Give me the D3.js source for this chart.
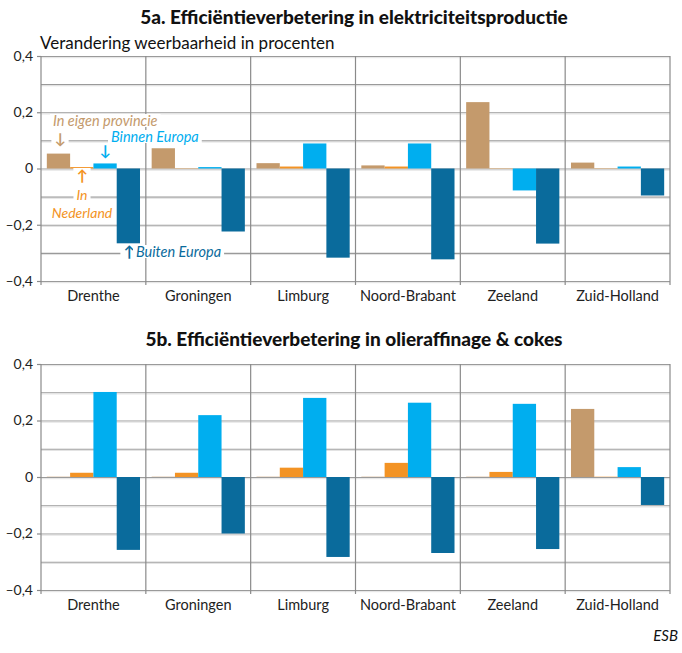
<!DOCTYPE html>
<html><head><meta charset="utf-8">
<script src="https://cdn.jsdelivr.net/npm/d3@7"></script>
<style>body{margin:0;background:#fff}svg{display:block}</style>
</head><body>
<svg id="c" width="682" height="653"></svg>
<script>
const categories = ["Drenthe","Groningen","Limburg","Noord-Brabant","Zeeland","Zuid-Holland"];
const series = ["In eigen provincie","In Nederland","Binnen Europa","Buiten Europa"];
const colors = ["#c49a6c","#f39324","#00aeef","#0a6b9c"];
// 5a: elektriciteitsproductie
const a_eigenProvincie = [0.053, 0.072, 0.019, 0.011, 0.236, 0.021];
const a_nederland      = [0.005, 0.001, 0.007, 0.007, 0.001, 0.001];
const a_binnenEuropa   = [0.018, 0.005, 0.089, 0.089, -0.078, 0.007];
const a_buitenEuropa   = [-0.266, -0.224, -0.317, -0.323, -0.267, -0.096];
// 5b: olieraffinage & cokes
const b_eigenProvincie = [0.001, 0.001, 0.001, 0.001, 0.001, 0.241];
const b_nederland      = [0.015, 0.015, 0.033, 0.050, 0.018, 0.001];
const b_binnenEuropa   = [0.301, 0.219, 0.280, 0.263, 0.259, 0.035];
const b_buitenEuropa   = [-0.258, -0.200, -0.283, -0.269, -0.255, -0.099];
const tickValues = [-0.4,-0.2,0,0.2,0.4];
const tickLabels = ["\u20130,4","\u20130,2","0","0,2","0,4"];
const gridValues = [-0.4,-0.3,-0.2,-0.1,0,0.1,0.2,0.3,0.4];

const svg = d3.select("#c");
const FONT = "Lato, 'Open Sans', sans-serif";
const L = 41, R = 670;

function panel(vals, top, bottom, title, titleY, labelY){
  const g = svg.append("g");
  const y = d3.scaleLinear().domain([-0.4,0.4]).range([bottom, top]);
  const x0 = d3.scaleBand().domain(categories).range([L,R]).padding(0);
  const x1 = d3.scaleBand().domain(series).range([0,x0.bandwidth()]).paddingInner(0).paddingOuter(0.25);
  g.selectAll(".gl").data(gridValues).join("line")
    .attr("x1",L).attr("x2",R).attr("y1",d=>y(d)+0.5).attr("y2",d=>y(d)+0.5)
    .attr("stroke","#9a9a9a").attr("stroke-width",1.2);
  g.selectAll(".gl2").data(gridValues).join("line")
    .attr("x1",L).attr("x2",R).attr("y1",d=>y(d)+1.7).attr("y2",d=>y(d)+1.7)
    .attr("stroke","#e2e2e2").attr("stroke-width",1);
  const seps = categories.map(c=>x0(c)).concat([R]);
  g.selectAll(".vs").data(seps).join("line")
    .attr("x1",d=>d).attr("x2",d=>d).attr("y1",top).attr("y2",bottom+4)
    .attr("stroke","#8a8a8a").attr("stroke-width",1.2);
  g.selectAll(".yt").data(tickValues).join("line")
    .attr("x1",L-4).attr("x2",L).attr("y1",d=>y(d)+0.5).attr("y2",d=>y(d)+0.5)
    .attr("stroke","#8a8a8a").attr("stroke-width",1.2);
  g.selectAll(".yl").data(tickValues).join("text")
    .attr("x",33).attr("y",d=>y(d)).attr("dy","0.35em").attr("text-anchor","end")
    .attr("font-family",FONT).attr("font-size",14).attr("fill","#222")
    .text((d,i)=>tickLabels[i]);
  categories.forEach((c,ci)=>{
    vals.forEach((arr,si)=>{
      const v = arr[ci];
      g.append("rect")
        .attr("x",x0(c)+x1(series[si])).attr("width",x1.bandwidth())
        .attr("y",y(Math.max(0,v))).attr("height",Math.abs(y(v)-y(0)))
        .attr("fill",colors[si]);
    });
  });
  g.selectAll(".cl").data(categories).join("text")
    .attr("x",d=>x0(d)+x0.bandwidth()/2).attr("y",labelY).attr("text-anchor","middle")
    .attr("font-family",FONT).attr("font-size",14.5).attr("fill","#222").text(d=>d);
  svg.append("text").attr("x",354).attr("y",titleY).attr("text-anchor","middle")
    .attr("font-family",FONT).attr("font-weight",900).attr("font-size",19).attr("fill","#111")
    .text(title);
  return {x0,x1,y};
}

panel([a_eigenProvincie,a_nederland,a_binnenEuropa,a_buitenEuropa], 56, 281,
  "5a. Efficiëntieverbetering in elektriciteitsproductie", 24, 301);
panel([b_eigenProvincie,b_nederland,b_binnenEuropa,b_buitenEuropa], 364, 590,
  "5b. Efficiëntieverbetering in olieraffinage & cokes", 346, 610);

svg.append("text").attr("x",40).attr("y",49).attr("font-family",FONT).attr("font-size",17)
  .attr("fill","#111").text("Verandering weerbaarheid in procenten");

function ann(txt, x, yv, col, anchor, bold, size){
  const t = svg.append("text").attr("x",x).attr("y",yv).attr("text-anchor",anchor||"start")
    .attr("font-family",FONT).attr("font-style","italic").attr("font-size",size||(bold?15:14.5))
    .attr("font-weight",bold?"bold":"normal").attr("fill",col).text(txt);
  const bb = t.node().getBBox();
  svg.insert("rect", function(){return t.node();}).attr("x",bb.x-3).attr("y",bb.y+2).attr("width",bb.width+6).attr("height",bb.height-4).attr("fill","#fff");
  return t;
}
ann("In eigen provincie", 53, 126, colors[0]);
ann("\u2193", 60, 144, colors[0], "middle", true);
ann("Binnen Europa", 111, 142, colors[2]);
ann("\u2193", 105, 156, colors[2], "middle", true);
ann("\u2191", 82, 181, colors[1], "middle", true);
ann("In", 82, 199.5, colors[1], "middle", false, 14);
ann("Nederland", 82, 217.5, colors[1], "middle", false, 14);
ann("\u2191", 129, 257, colors[3], "middle", true);
ann("Buiten Europa", 136, 257, colors[3]);

svg.append("text").attr("x",678).attr("y",641).attr("text-anchor","end")
  .attr("font-family",FONT).attr("font-style","italic").attr("font-size",15).attr("fill","#111").text("ESB");
</script>
</body></html>
